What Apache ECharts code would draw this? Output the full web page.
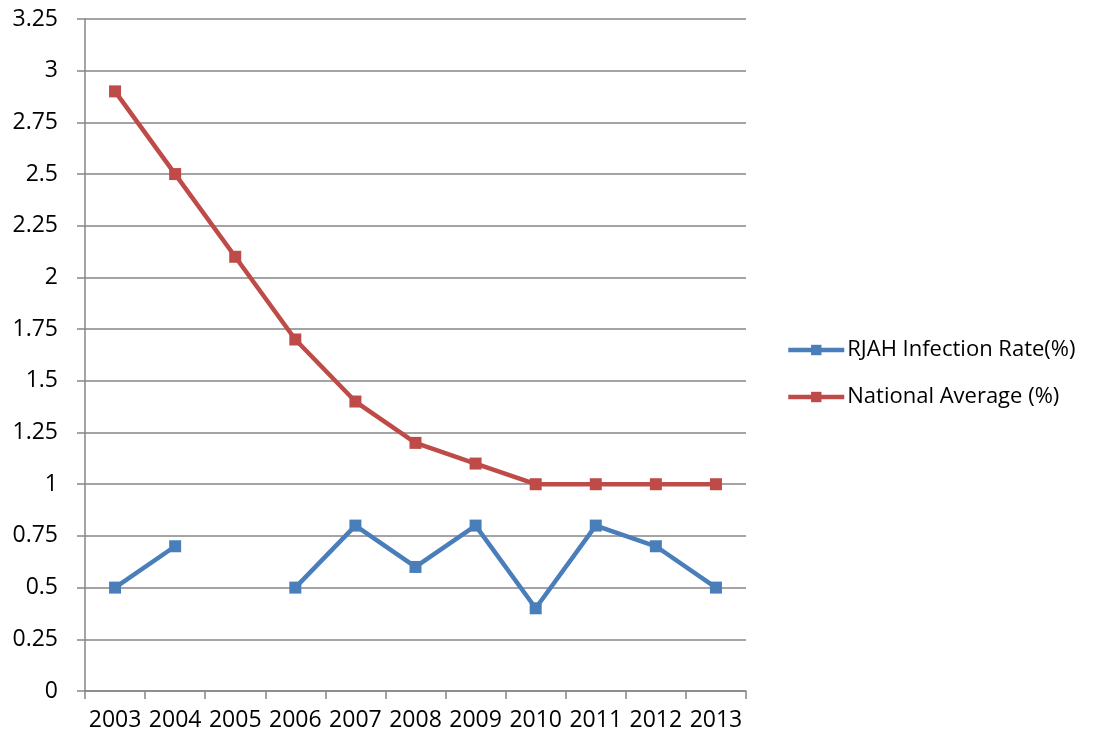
<!DOCTYPE html>
<html>
<head>
<meta charset="utf-8">
<script src="https://cdn.jsdelivr.net/npm/echarts@6/dist/echarts.min.js"></script>
<style>
  html, body { margin: 0; padding: 0; background: #fff; }
  #chart { width: 1101px; height: 742px; }
</style>
</head>
<body>
<div id="chart"></div>
<script>
// Infection rates by year, RJAH versus national average
const years = ['2003', '2004', '2005', '2006', '2007', '2008', '2009', '2010', '2011', '2012', '2013'];
const rjahRate = [0.5, 0.7, null, 0.5, 0.8, 0.6, 0.8, 0.4, 0.8, 0.7, 0.5];
const nationalAverage = [2.9, 2.5, 2.1, 1.7, 1.4, 1.2, 1.1, 1.0, 1.0, 1.0, 1.0];
const seriesNames = ['RJAH Infection Rate(%)', 'National Average (%)'];

const FONT = '"Open Sans", "Liberation Sans", sans-serif';
const axisGray = '#868686';

const chart = echarts.init(document.getElementById('chart'), null, { renderer: 'canvas' });

chart.setOption({
  animation: false,
  backgroundColor: '#ffffff',
  textStyle: { fontFamily: FONT },
  grid: { left: 85, right: 355, top: 19, bottom: 51, containLabel: false },
  legend: {
    orient: 'vertical',
    left: 786,
    top: 338,
    padding: 0,
    itemWidth: 56,
    itemHeight: 13,
    itemGap: 23,
    lineStyle: { width: 4.5 },
    textStyle: { fontFamily: FONT, fontSize: 22, lineHeight: 24, color: '#000', padding: [0, 0, 0, -2] },
    data: seriesNames
  },
  xAxis: {
    type: 'category',
    data: years,
    boundaryGap: true,
    axisLine: { lineStyle: { color: axisGray, width: 1.5 } },
    axisTick: { show: true, length: 8, alignWithLabel: false, lineStyle: { color: axisGray, width: 1.5 } },
    axisLabel: { interval: 0, margin: 18, fontFamily: FONT, fontSize: 23, color: '#000' },
    splitLine: { show: false }
  },
  yAxis: {
    type: 'value',
    min: 0,
    max: 3.25,
    interval: 0.25,
    axisLine: { show: true, lineStyle: { color: axisGray, width: 1.5 } },
    axisTick: { show: true, length: 8, lineStyle: { color: axisGray, width: 1.5 } },
    axisLabel: {
      margin: 27,
      fontFamily: FONT,
      fontSize: 23,
      color: '#000',
      formatter: v => String(Math.round(v * 100) / 100)
    },
    splitLine: { show: true, lineStyle: { color: axisGray, width: 1.5 } }
  },
  series: [
    {
      name: seriesNames[0],
      type: 'line',
      data: rjahRate,
      connectNulls: false,
      symbol: 'rect',
      symbolSize: 12,
      itemStyle: { color: '#4a7ebb' },
      lineStyle: { color: '#4a7ebb', width: 4.5 },
      z: 3
    },
    {
      name: seriesNames[1],
      type: 'line',
      data: nationalAverage,
      symbol: 'rect',
      symbolSize: 12,
      itemStyle: { color: '#be4b48' },
      lineStyle: { color: '#be4b48', width: 4.5 },
      z: 3
    }
  ]
});
</script>
</body>
</html>
